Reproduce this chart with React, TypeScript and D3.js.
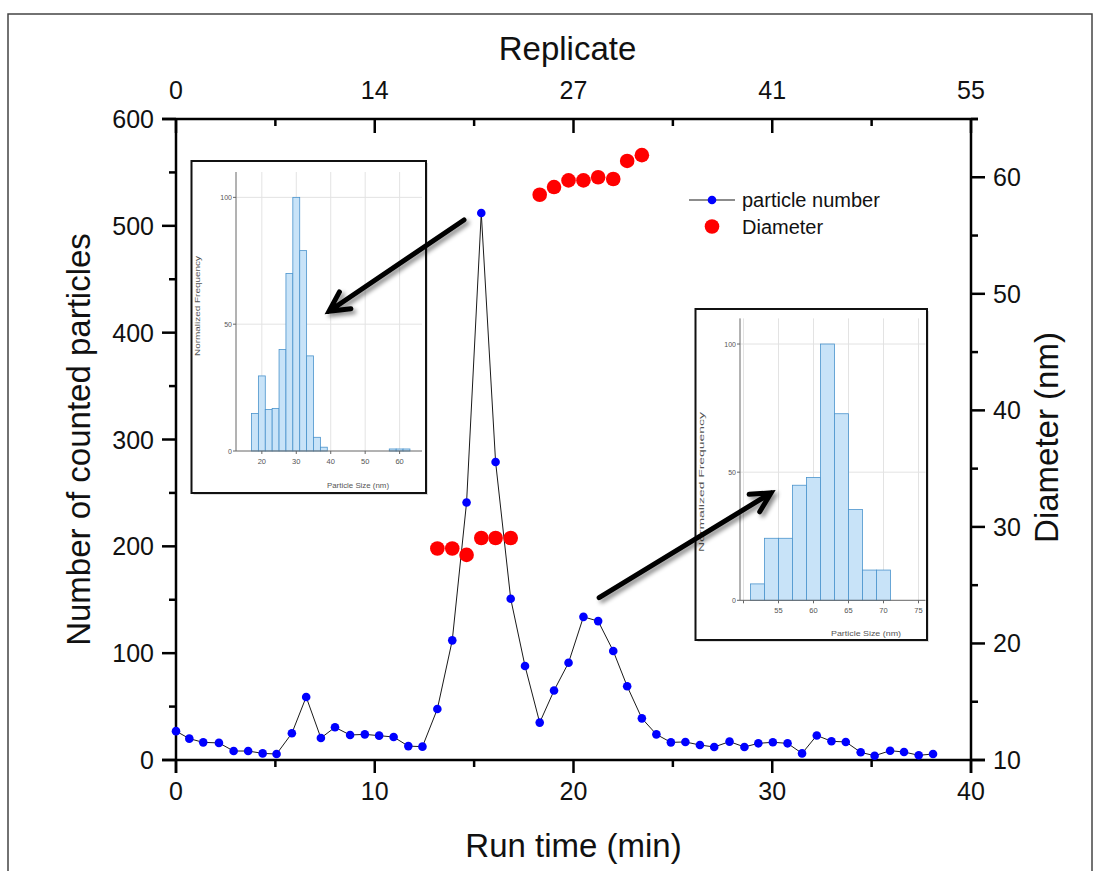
import React from "react";
import * as d3 from "d3";

// ---------- data ----------
const runTime = [0, 0.67, 1.37, 2.16, 2.9, 3.63, 4.36, 5.06, 5.83, 6.55, 7.29, 8.0, 8.76, 9.5, 10.22, 10.95, 11.69, 12.4, 13.15, 13.9, 14.62, 15.36, 16.08, 16.84, 17.56, 18.3, 19.02, 19.75, 20.5, 21.24, 22.0, 22.7, 23.44, 24.17, 24.9, 25.63, 26.36, 27.08, 27.85, 28.6, 29.3, 30.03, 30.77, 31.5, 32.24, 32.98, 33.7, 34.45, 35.15, 35.93, 36.63, 37.37, 38.09];
const particleNumber = [27, 20, 16.5, 16, 8.4, 8.4, 6.2, 5.6, 25, 59, 20.6, 30.6, 23.4, 24, 22.8, 21.5, 13, 12.5, 47.7, 112, 241, 512, 279, 151, 88, 35, 65, 91, 134, 130, 102, 69, 39, 24, 16.5, 16.9, 14, 12.2, 17.2, 12.2, 15.6, 16.6, 15.6, 6.2, 23, 17.5, 16.9, 7.2, 4, 8.7, 7.5, 4.4, 5.6];

const diameterTime = [13.15, 13.9, 14.62, 15.36, 16.08, 16.84, 18.3, 19.02, 19.75, 20.5, 21.24, 22.0, 22.7, 23.44];
const diameterNm = [28.15, 28.15, 27.6, 29.05, 29.05, 29.05, 58.5, 59.16, 59.73, 59.73, 60.0, 59.85, 61.4, 61.9];

const xMajorTicks = [0, 10, 20, 30, 40];
const xMinorTicks = [5, 15, 25, 35];
const yMajorTicks = [0, 100, 200, 300, 400, 500, 600];
const yMinorTicks = [50, 150, 250, 350, 450, 550];
const y2MajorTicks = [10, 20, 30, 40, 50, 60];
const y2MinorTicks = [15, 25, 35, 45, 55, 65];
const replicateTicks = [0, 13.75, 27.5, 41.25, 55];
const replicateTickLabels = ["0", "14", "27", "41", "55"];
const replicateMinorTicks = [6.875, 20.625, 34.375, 48.125];

// inset 1 histogram (early peak)
const inset1BinStart = [17, 19, 21, 23, 25, 27, 29, 31, 33, 35, 37, 57, 59, 61];
const inset1Freq = [14.8, 29.6, 16.4, 16.8, 40, 70, 100, 79, 37.5, 5.4, 1.5, 0.8, 0.8, 0.8];
const inset1XTicks = [20, 30, 40, 50, 60];

// inset 2 histogram (second peak)
const inset2BinStart = [51, 53, 55, 57, 59, 61, 63, 65, 67, 69];
const inset2Freq = [6.4, 24.2, 24.2, 44.9, 47.9, 100, 72.8, 35.4, 11.8, 11.8];
const inset2XTicks = [50, 55, 60, 65, 70, 75];
const insetYTicks = [0, 50, 100];

// annotation arrows, in data units (run time, particle count)
const arrowStart = [[14.49, 505.5], [21.29, 152]];
const arrowEnd = [[7.7, 420], [29.94, 250]];

// ---------- layout ----------
const W = 1106;
const H = 871;
const plot = { left: 176, right: 971, top: 119, bottom: 760 };
const FONT = "'Liberation Sans', Arial, Helvetica, sans-serif";

const inset1 = {
  box: { x: 191.5, y: 161, w: 234.5, h: 332 },
  xr: [236, 422], yr: [451, 172], xd: [12.5, 66.5],
  labelX: 200, labelY: 306, labelLen: 100, titleX: 358, titleY: 488, titleLen: 62,
};
const inset2 = {
  box: { x: 695.5, y: 309, w: 231.5, h: 331 },
  xr: [740, 925.5], yr: [600.3, 318.4], xd: [49.5, 76],
  labelX: 704, labelY: 482, labelLen: 140, titleX: 866, titleY: 636, titleLen: 70,
};

function Inset({ cfg, bins, freq, xTicks, binWidth }: any) {
  const x = d3.scaleLinear().domain(cfg.xd).range(cfg.xr);
  const y = d3.scaleLinear().domain([0, 110]).range(cfg.yr);
  const gridCol = "#e3e3e3";
  const axisCol = "#666";
  return (
    <g>
      <rect x={cfg.box.x + 2} y={cfg.box.y + 2} width={cfg.box.w} height={cfg.box.h} fill="#bbb" opacity={0.5} />
      <rect x={cfg.box.x} y={cfg.box.y} width={cfg.box.w} height={cfg.box.h} fill="#fff" stroke="#111" strokeWidth={2} />
      {xTicks.map((t: number) => (
        <line key={"gx" + t} x1={x(t)} x2={x(t)} y1={y(0)} y2={cfg.yr[1]} stroke={gridCol} strokeWidth={1} />
      ))}
      {insetYTicks.filter((t) => t > 0).map((t) => (
        <line key={"gy" + t} x1={cfg.xr[0]} x2={cfg.xr[1]} y1={y(t)} y2={y(t)} stroke={gridCol} strokeWidth={1} />
      ))}
      {bins.map((b: number, i: number) => (
        <rect key={"b" + i} x={x(b)} y={y(freq[i])} width={x(b + binWidth) - x(b)} height={y(0) - y(freq[i])}
          fill="#c8e3f8" stroke="#4a93cc" strokeWidth={0.8} />
      ))}
      <line x1={cfg.xr[0]} x2={cfg.xr[0]} y1={cfg.yr[0]} y2={cfg.yr[1]} stroke={axisCol} strokeWidth={1} />
      <line x1={cfg.xr[0]} x2={cfg.xr[1]} y1={cfg.yr[0]} y2={cfg.yr[0]} stroke={axisCol} strokeWidth={1} />
      {insetYTicks.map((t) => (
        <g key={"yt" + t}>
          <line x1={cfg.xr[0] - 3} x2={cfg.xr[0]} y1={y(t)} y2={y(t)} stroke={axisCol} />
          <text x={cfg.xr[0] - 4} y={y(t) + 2.5} fontSize={7} fill="#555" textAnchor="end" fontFamily={FONT}>{t}</text>
        </g>
      ))}
      {xTicks.map((t: number) => (
        <g key={"xt" + t}>
          <line x1={x(t)} x2={x(t)} y1={y(0)} y2={y(0) + 3} stroke={axisCol} />
          {x(t) > cfg.xr[0] + 5 && (
            <text x={x(t)} y={y(0) + 13} fontSize={7.5} fill="#555" textAnchor="middle" fontFamily={FONT}>{t}</text>
          )}
        </g>
      ))}
      <text transform={`translate(${cfg.labelX},${cfg.labelY}) rotate(-90)`} fontSize={8} fill="#555" textAnchor="middle"
        fontFamily={FONT} textLength={cfg.labelLen} lengthAdjust="spacingAndGlyphs">Normalized Frequency</text>
      <text x={cfg.titleX} y={cfg.titleY} fontSize={8} fill="#555" textAnchor="middle" fontFamily={FONT}
        textLength={cfg.titleLen} lengthAdjust="spacingAndGlyphs">Particle Size (nm)</text>
    </g>
  );
}

export default function App() {
  const x = d3.scaleLinear().domain([0, 40]).range([plot.left, plot.right]);
  const xTop = d3.scaleLinear().domain([0, 55]).range([plot.left, plot.right]);
  const y = d3.scaleLinear().domain([0, 600]).range([plot.bottom, plot.top]);
  const y2 = d3.scaleLinear().domain([10, 65]).range([plot.bottom, plot.top]);

  const linePath = d3.line<number>().x((d, i) => x(runTime[i])).y((d) => y(d))(particleNumber) || "";

  const arrows = arrowStart.map((s, i) => {
    const x1 = x(s[0]), y1 = y(s[1]);
    const x2 = x(arrowEnd[i][0]), y2v = y(arrowEnd[i][1]);
    const ang = Math.atan2(y2v - y1, x2 - x1);
    const L = 22, spread = Math.PI / 6.5;
    const b1 = [x2 - L * Math.cos(ang - spread), y2v - L * Math.sin(ang - spread)];
    const b2 = [x2 - L * Math.cos(ang + spread), y2v - L * Math.sin(ang + spread)];
    return { d: `M${x1},${y1}L${x2},${y2v}M${b1[0]},${b1[1]}L${x2},${y2v}L${b2[0]},${b2[1]}` };
  });

  const tickLbl = { fontSize: 25, fontFamily: FONT, fill: "#111" } as any;
  const titleStyle = { fontSize: 33, fontFamily: FONT, fill: "#111" } as any;

  return (
    <svg width={W} height={H} style={{ position: "absolute", left: 0, top: 0, background: "#fff" }}>
      <defs>
        <filter id="shadow" x="-20%" y="-20%" width="140%" height="140%">
          <feDropShadow dx="3" dy="3" stdDeviation="2" floodColor="#000" floodOpacity="0.45" />
        </filter>
      </defs>
      <rect x={0} y={0} width={W} height={H} fill="#fff" />
      <rect x={8} y={14} width={1084} height={880} fill="none" stroke="#444" strokeWidth={1.5} />

      {/* insets */}
      <Inset cfg={inset1} bins={inset1BinStart} freq={inset1Freq} xTicks={inset1XTicks} binWidth={2} />
      <Inset cfg={inset2} bins={inset2BinStart} freq={inset2Freq} xTicks={inset2XTicks} binWidth={2} />

      {/* axes frame */}
      <g stroke="#000" strokeWidth={2.5} fill="none">
        <line x1={plot.left - 14} x2={plot.right + 7} y1={plot.top} y2={plot.top} />
        <line x1={plot.left - 14} x2={plot.right + 14} y1={plot.bottom} y2={plot.bottom} />
        <line x1={plot.left} x2={plot.left} y1={plot.top} y2={plot.bottom + 13} />
        <line x1={plot.right} x2={plot.right} y1={plot.top} y2={plot.bottom + 13} />
        {yMajorTicks.map((t) => <line key={"ly" + t} x1={plot.left - 14} x2={plot.left} y1={y(t)} y2={y(t)} />)}
        {yMinorTicks.map((t) => <line key={"lym" + t} x1={plot.left - 7} x2={plot.left} y1={y(t)} y2={y(t)} />)}
        {xMajorTicks.map((t) => <line key={"bx" + t} x1={x(t)} x2={x(t)} y1={plot.bottom} y2={plot.bottom + 13} />)}
        {xMinorTicks.map((t) => <line key={"bxm" + t} x1={x(t)} x2={x(t)} y1={plot.bottom} y2={plot.bottom + 7} />)}
        {replicateTicks.map((t) => <line key={"tx" + t} x1={xTop(t)} x2={xTop(t)} y1={plot.top} y2={plot.top + 14} />)}
        {replicateMinorTicks.map((t) => <line key={"txm" + t} x1={xTop(t)} x2={xTop(t)} y1={plot.top} y2={plot.top + 7} />)}
        {y2MajorTicks.map((t) => <line key={"ry" + t} x1={plot.right} x2={plot.right + 14} y1={y2(t)} y2={y2(t)} />)}
        {y2MinorTicks.map((t) => <line key={"rym" + t} x1={plot.right} x2={plot.right + 7} y1={y2(t)} y2={y2(t)} />)}
      </g>

      {/* tick labels */}
      {yMajorTicks.map((t) => (
        <text key={"lyl" + t} x={plot.left - 22} y={y(t) + 9} textAnchor="end" {...tickLbl}>{t}</text>
      ))}
      {xMajorTicks.map((t) => (
        <text key={"bxl" + t} x={x(t)} y={plot.bottom + 40} textAnchor="middle" {...tickLbl}>{t}</text>
      ))}
      {replicateTicks.map((t, i) => (
        <text key={"txl" + t} x={xTop(t)} y={plot.top - 20} textAnchor="middle" {...tickLbl}>{replicateTickLabels[i]}</text>
      ))}
      {y2MajorTicks.map((t) => (
        <text key={"ryl" + t} x={plot.right + 22} y={y2(t) + 9} textAnchor="start" {...tickLbl}>{t}</text>
      ))}

      {/* titles */}
      <text x={(plot.left + plot.right) / 2} y={857} textAnchor="middle" {...titleStyle}>Run time (min)</text>
      <text x={(plot.left + plot.right) / 2 - 6} y={60} textAnchor="middle" {...titleStyle}>Replicate</text>
      <text transform={`translate(90,${(plot.top + plot.bottom) / 2})rotate(-90)`} textAnchor="middle" {...titleStyle}>Number of counted particles</text>
      <text transform={`translate(1058,${(plot.top + plot.bottom) / 2 - 2})rotate(-90)`} textAnchor="middle" {...titleStyle}>Diameter (nm)</text>

      {/* series */}
      <path d={linePath} fill="none" stroke="#1a1a1a" strokeWidth={1} />
      {particleNumber.map((v, i) => (
        <circle key={"p" + i} cx={x(runTime[i])} cy={y(v)} r={4.3} fill="#0000ff" />
      ))}
      {diameterNm.map((v, i) => (
        <circle key={"d" + i} cx={x(diameterTime[i])} cy={y2(v)} r={7.3} fill="#ff0000" />
      ))}

      {/* arrows */}
      {arrows.map((a, i) => (
        <path key={"a" + i} d={a.d} fill="none" stroke="#000" strokeWidth={5} strokeLinecap="round" strokeLinejoin="miter" filter="url(#shadow)" />
      ))}

      {/* legend */}
      <line x1={689} x2={735} y1={200} y2={200} stroke="#1a1a1a" strokeWidth={1.2} />
      <circle cx={712} cy={200} r={4.3} fill="#0000ff" />
      <text x={742} y={207} fontSize={20} fontFamily={FONT} fill="#111">particle number</text>
      <circle cx={712} cy={226.5} r={7.3} fill="#ff0000" />
      <text x={742} y={233.5} fontSize={20} fontFamily={FONT} fill="#111">Diameter</text>
    </svg>
  );
}
